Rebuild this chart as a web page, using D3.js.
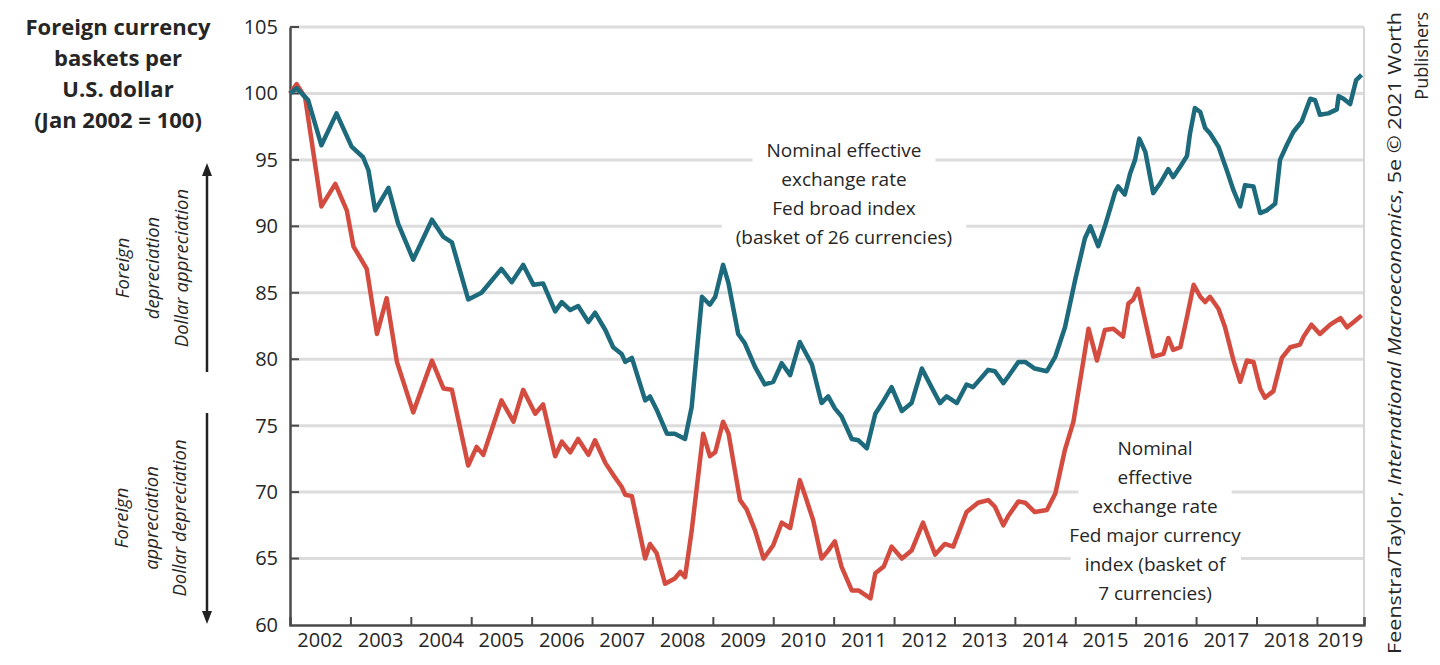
<!DOCTYPE html>
<html>
<head>
<meta charset="utf-8">
<script src="https://cdn.jsdelivr.net/npm/d3@7"></script>
<style>
  body { margin: 0; background: #fff; }
  text { font-family: "Open Sans", sans-serif; fill: #262626; }
</style>
</head>
<body>
<svg id="chart" width="1440" height="665"></svg>
<script>
// time in decimal years (Jan 2002 = 100)
const broadTimes = [
  2002.00, 2002.11, 2002.30, 2002.52, 2002.77, 2003.02, 2003.21, 2003.30, 2003.41, 2003.63,
  2003.79, 2004.04, 2004.35, 2004.54, 2004.68, 2004.95, 2005.17, 2005.50, 2005.67, 2005.86,
  2006.03, 2006.19, 2006.39, 2006.50, 2006.64, 2006.77, 2006.94, 2007.05, 2007.22, 2007.35,
  2007.49, 2007.55, 2007.66, 2007.88, 2007.96, 2008.07, 2008.24, 2008.37, 2008.54, 2008.65,
  2008.82, 2008.95, 2009.04, 2009.17, 2009.26, 2009.42, 2009.53, 2009.70, 2009.86, 2010.00,
  2010.14, 2010.28, 2010.44, 2010.64, 2010.80, 2010.91, 2011.02, 2011.13, 2011.30, 2011.41,
  2011.55, 2011.69, 2011.83, 2011.96, 2012.13, 2012.29, 2012.46, 2012.62, 2012.76, 2012.87,
  2013.04, 2013.20, 2013.31, 2013.56, 2013.67, 2013.81, 2013.89, 2014.06, 2014.17, 2014.33,
  2014.53, 2014.67, 2014.83, 2015.00, 2015.16, 2015.25, 2015.38, 2015.49, 2015.66, 2015.71,
  2015.82, 2015.91, 2015.99, 2016.06, 2016.16, 2016.29, 2016.40, 2016.54, 2016.62, 2016.74,
  2016.85, 2016.90, 2016.98, 2017.07, 2017.15, 2017.23, 2017.37, 2017.51, 2017.62, 2017.73,
  2017.81, 2017.95, 2018.06, 2018.17, 2018.31, 2018.39, 2018.50, 2018.61, 2018.75, 2018.89,
  2018.97, 2019.05, 2019.19, 2019.33, 2019.36, 2019.44, 2019.55, 2019.65, 2019.74
];
const broadValues = [
  100.0, 100.4, 99.5, 96.1, 98.5, 96.0, 95.2, 94.2, 91.2, 92.9,
  90.2, 87.5, 90.5, 89.2, 88.8, 84.5, 85.0, 86.8, 85.8, 87.1,
  85.6, 85.7, 83.6, 84.3, 83.7, 84.0, 82.8, 83.5, 82.2, 80.9,
  80.4, 79.8, 80.1, 76.9, 77.2, 76.2, 74.4, 74.4, 74.0, 76.4,
  84.7, 84.1, 84.7, 87.1, 85.7, 81.9, 81.2, 79.4, 78.1, 78.3,
  79.7, 78.8, 81.3, 79.6, 76.7, 77.2, 76.3, 75.7, 74.0, 73.9,
  73.3, 75.9, 76.9, 77.9, 76.1, 76.7, 79.3, 77.9, 76.7, 77.2,
  76.7, 78.1, 77.9, 79.2, 79.1, 78.2, 78.7, 79.8, 79.8, 79.3,
  79.1, 80.2, 82.4, 86.0, 89.1, 90.0, 88.5, 90.0, 92.6, 93.0,
  92.4, 94.0, 95.0, 96.6, 95.6, 92.5, 93.2, 94.3, 93.7, 94.5,
  95.3, 97.0, 98.9, 98.6, 97.4, 97.0, 96.0, 94.2, 92.7, 91.5,
  93.1, 93.0, 91.0, 91.2, 91.7, 95.0, 96.1, 97.1, 97.9, 99.6,
  99.5, 98.4, 98.5, 98.8, 99.8, 99.6, 99.2, 101.0, 101.4
];

const majorTimes = [
  2002.00, 2002.11, 2002.25, 2002.52, 2002.75, 2002.94, 2003.05, 2003.27, 2003.44, 2003.60,
  2003.77, 2004.04, 2004.35, 2004.54, 2004.68, 2004.95, 2005.09, 2005.20, 2005.50, 2005.70,
  2005.86, 2006.06, 2006.19, 2006.39, 2006.50, 2006.64, 2006.77, 2006.94, 2007.05, 2007.22,
  2007.35, 2007.49, 2007.55, 2007.66, 2007.88, 2007.96, 2008.07, 2008.21, 2008.37, 2008.46,
  2008.54, 2008.65, 2008.84, 2008.95, 2009.04, 2009.17, 2009.26, 2009.45, 2009.56, 2009.70,
  2009.84, 2010.00, 2010.14, 2010.28, 2010.44, 2010.53, 2010.66, 2010.80, 2010.91, 2011.02,
  2011.13, 2011.30, 2011.41, 2011.61, 2011.69, 2011.83, 2011.96, 2012.13, 2012.29, 2012.48,
  2012.68, 2012.84, 2012.98, 2013.20, 2013.39, 2013.56, 2013.67, 2013.81, 2013.89, 2014.06,
  2014.17, 2014.33, 2014.53, 2014.67, 2014.83, 2014.97, 2015.11, 2015.22, 2015.36, 2015.49,
  2015.63, 2015.79, 2015.88, 2015.96, 2016.04, 2016.13, 2016.29, 2016.46, 2016.54, 2016.62,
  2016.74, 2016.85, 2016.96, 2017.07, 2017.15, 2017.23, 2017.37, 2017.48, 2017.62, 2017.73,
  2017.84, 2017.95, 2018.06, 2018.14, 2018.28, 2018.42, 2018.56, 2018.72, 2018.78, 2018.91,
  2019.05, 2019.22, 2019.39, 2019.50, 2019.61, 2019.74
];
const majorValues = [
  100.0, 100.7, 99.7, 91.5, 93.2, 91.2, 88.5, 86.8, 81.9, 84.6,
  79.8, 76.0, 79.9, 77.8, 77.7, 72.0, 73.4, 72.8, 76.9, 75.3,
  77.7, 75.9, 76.6, 72.7, 73.8, 73.0, 74.0, 72.8, 73.9, 72.2,
  71.3, 70.4, 69.8, 69.7, 65.0, 66.1, 65.4, 63.1, 63.5, 64.0,
  63.6, 67.1, 74.4, 72.7, 73.0, 75.3, 74.4, 69.4, 68.7, 67.1,
  65.0, 66.0, 67.7, 67.3, 70.9, 69.7, 67.9, 65.0, 65.6, 66.3,
  64.4, 62.6, 62.6, 62.0, 63.9, 64.4, 65.9, 65.0, 65.6, 67.7,
  65.3, 66.1, 65.9, 68.5, 69.2, 69.4, 68.9, 67.5, 68.2, 69.3,
  69.2, 68.5, 68.65, 69.9, 73.2, 75.3, 79.2, 82.3, 79.9, 82.2,
  82.3, 81.7, 84.2, 84.5, 85.3, 83.45, 80.2, 80.4, 81.6, 80.7,
  80.9, 83.2, 85.6, 84.7, 84.3, 84.7, 83.8, 82.4, 79.9, 78.3,
  79.9, 79.8, 77.8, 77.1, 77.6, 80.1, 80.9, 81.1, 81.7, 82.6,
  81.9, 82.6, 83.1, 82.4, 82.8, 83.3
];

const yearLabels = d3.range(2002, 2020);
const yTicks = [60, 65, 70, 75, 80, 85, 90, 95, 100, 105];

const titleLines = ["Foreign currency", "baskets per", "U.S. dollar", "(Jan 2002 = 100)"];
const upLabel = ["Foreign", "depreciation", "Dollar appreciation"];
const downLabel = ["Foreign", "appreciation", "Dollar depreciation"];
const broadNote = ["Nominal effective", "exchange rate", "Fed broad index", "(basket of 26 currencies)"];
const majorNote = ["Nominal", "effective", "exchange rate", "Fed major currency", "index (basket of", "7 currencies)"];

const tealColor = "#1c6a7c";
const redColor = "#d44b40";

const svg = d3.select("#chart");

const x = d3.scaleLinear()
  .domain([2002, 2019.78])
  .range([290, 1364]);

const y = d3.scaleLinear()
  .domain([60, 105])
  .range([625, 27]);

// grid
svg.append("g")
  .selectAll("line")
  .data(yTicks.filter(d => d > 60))
  .enter()
  .append("line")
  .attr("x1", x.range()[0])
  .attr("x2", x.range()[1])
  .attr("y1", d => y(d))
  .attr("y2", d => y(d))
  .attr("stroke", "#dcdcdc")
  .attr("stroke-width", 3);

// right border
svg.append("line")
  .attr("x1", x.range()[1])
  .attr("x2", x.range()[1])
  .attr("y1", y(105))
  .attr("y2", y(60))
  .attr("stroke", "#d6d6d6")
  .attr("stroke-width", 2);

// note blocks with white backing
function note(lines, cx, top, lh, size) {

  const g = svg.append("g");

  const texts =
    g.selectAll("text")
      .data(lines)
      .enter()
      .append("text")
      .attr("x", cx)
      .attr("y", (d, i) => top + i * lh)
      .attr("text-anchor", "middle")
      .style("font-size", size + "px")
      .text(d => d);

  texts.each(function () {
    const b = this.getBBox();
    g.insert("rect", "text")
      .attr("x", b.x - 14)
      .attr("y", b.y - 4)
      .attr("width", b.width + 28)
      .attr("height", b.height + 8)
      .attr("fill", "#fff");
  });
}

note(broadNote, 844, 157, 29, 19);
note(majorNote, 1155, 455, 29, 19);

// y axis
const yAxis = svg.append("g")
  .attr("transform", `translate(${x.range()[0]},0)`)
  .call(
    d3.axisLeft(y)
      .tickValues(yTicks)
      .tickSize(0)
      .tickPadding(12)
  );

yAxis.select(".domain")
  .attr("stroke", "#4a4a4a")
  .attr("stroke-width", 2.5);

yAxis.selectAll("text")
  .style("font-size", "20px")
  .style("font-family", "'Open Sans', sans-serif")
  .attr("fill", "#262626");

svg.append("g")
  .selectAll("line")
  .data(yTicks.filter(d => d > 60))
  .enter()
  .append("line")
  .attr("x1", x.range()[0])
  .attr("x2", x.range()[0] + 9)
  .attr("y1", d => y(d))
  .attr("y2", d => y(d))
  .attr("stroke", "#4a4a4a")
  .attr("stroke-width", 2);

// x axis
const xAxis = svg.append("g")
  .attr("transform", `translate(0,${y(60)})`)
  .call(
    d3.axisBottom(x)
      .tickValues(yearLabels.slice(1).concat([x.domain()[1]]))
      .tickSize(-8)
      .tickFormat("")
  );

xAxis.select(".domain")
  .attr("stroke", "#4a4a4a")
  .attr("stroke-width", 2.5);

xAxis.selectAll(".tick line")
  .attr("stroke", "#4a4a4a")
  .attr("stroke-width", 2);

svg.append("g")
  .selectAll("text")
  .data(yearLabels)
  .enter()
  .append("text")
  .attr("x", d => {
    const a = Math.max(d, x.domain()[0]);
    const b = Math.min(d + 1, x.domain()[1]);
    return x((a + b) / 2);
  })
  .attr("y", y(60) + 22)
  .attr("text-anchor", "middle")
  .style("font-size", "20px")
  .text(d => d);

// lines
const line = d3.line()
  .x(d => x(d[0]))
  .y(d => y(d[1]))
  .curve(d3.curveLinear);

svg.append("path")
  .datum(d3.zip(majorTimes, majorValues))
  .attr("d", line)
  .attr("fill", "none")
  .attr("stroke", redColor)
  .attr("stroke-width", 4.5)
  .attr("stroke-linejoin", "round");

svg.append("path")
  .datum(d3.zip(broadTimes, broadValues))
  .attr("d", line)
  .attr("fill", "none")
  .attr("stroke", tealColor)
  .attr("stroke-width", 4.5)
  .attr("stroke-linejoin", "round");

// left title
svg.append("g")
  .selectAll("text")
  .data(titleLines)
  .enter()
  .append("text")
  .attr("x", 118)
  .attr("y", (d, i) => 35 + i * 31)
  .attr("text-anchor", "middle")
  .style("font-size", "22px")
  .style("font-weight", "bold")
  .text(d => d);

// direction arrows
function arrow(x0, yFrom, yTo) {

  const dir = yTo > yFrom ? 1 : -1;

  svg.append("line")
    .attr("x1", x0)
    .attr("x2", x0)
    .attr("y1", yFrom)
    .attr("y2", yTo - dir * 10)
    .attr("stroke", "#222")
    .attr("stroke-width", 2.5);

  svg.append("path")
    .attr(
      "d",
      `M${x0},${yTo} L${x0 - 5},${yTo - dir * 13} L${x0 + 5},${yTo - dir * 13} Z`
    )
    .attr("fill", "#222");
}

arrow(207, 372, 163);
arrow(207, 413, 624);

function sideLabel(lines, cy, xs) {
  svg.append("g")
    .selectAll("text")
    .data(lines)
    .enter()
    .append("text")
    .attr("transform", (d, i) => `translate(${xs[i]},${cy}) rotate(-90)`)
    .attr("text-anchor", "middle")
    .style("font-size", "18.5px")
    .style("font-style", "italic")
    .text(d => d);
}

sideLabel(upLabel, 268, [129, 159, 188]);
sideLabel(downLabel, 518, [128, 158, 186]);

// source credit
const credit = svg.append("g")
  .attr("transform", "translate(1401,12) rotate(-90)");

const c1 = credit.append("text")
  .attr("x", 0)
  .attr("y", 0)
  .attr("text-anchor", "end")
  .attr("textLength", 642)
  .attr("lengthAdjust", "spacingAndGlyphs")
  .style("font-size", "18px");

c1.append("tspan").text("Feenstra/Taylor, ");
c1.append("tspan").style("font-style", "italic").text("International Macroeconomics");
c1.append("tspan").text(", 5e \u00a9 2021 Worth");

credit.append("text")
  .attr("x", 0)
  .attr("y", 27)
  .attr("text-anchor", "end")
  .style("font-size", "18px")
  .text("Publishers");
</script>
</body>
</html>
